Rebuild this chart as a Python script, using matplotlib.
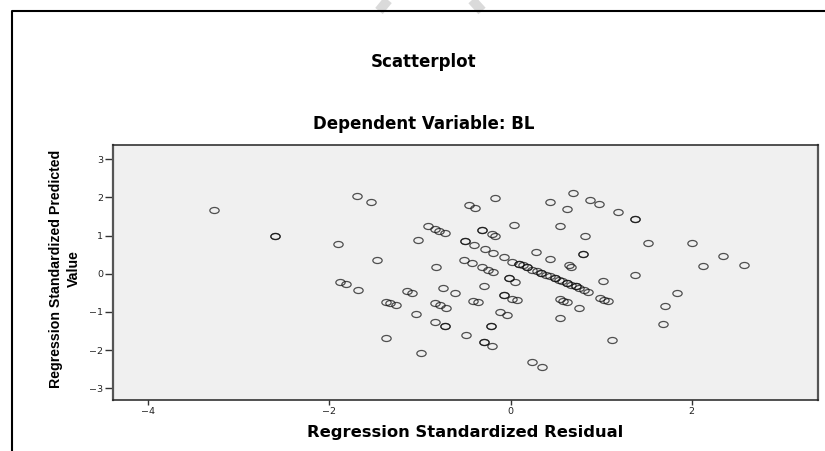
import numpy as np
import matplotlib.pyplot as plt
from matplotlib.path import Path
from matplotlib.transforms import Affine2D
from matplotlib.lines import Line2D

# standardized residual (x) and standardized predicted value (y), one entry per case
residual = [
    -3.28, -2.60, -2.60, -1.70, -1.54, -1.91, -1.48, -1.88, -1.82, -1.68,
    -1.38, -1.33, -1.27, -1.38,
    -0.17, -0.46, -0.39, 0.04, -0.91, -0.83, -0.79, -0.72, -1.02,
    -0.32, -0.32, -0.21, -0.17, -0.50, -0.50, -0.40, -0.28, -0.19, -0.07, 0.02,
    -0.82, -0.51, -0.43, -0.32, -0.25, -0.19, -0.02, -0.02, 0.05,
    -0.75, -0.61, -0.29, -1.14, -1.09, -1.04, -0.84, -0.78, -0.71,
    -0.42, -0.36, -0.07, -0.07, 0.02, 0.07, -0.12, -0.04,
    -0.84, -0.72, -0.72, -0.22, -0.22, -0.49, -0.29, -0.29, -0.21, -0.99,
    0.69, 0.44, 0.62, 0.88, 0.98, 1.19, 1.37, 1.37, 0.55, 0.82,
    0.28, 0.44, 0.80, 0.80, 0.64, 0.67, 1.02, 1.37,
    0.09, 0.09, 0.14, 0.18, 0.18, 0.24, 0.29, 0.34, 0.34, 0.39, 0.43,
    0.49, 0.49, 0.53, 0.57, 0.62, 0.62, 0.67, 0.72, 0.72, 0.76, 0.81, 0.86,
    0.54, 0.58, 0.62, 0.76, 0.54, 0.99, 1.03, 1.08, 1.12, 0.24, 0.35,
    1.52, 2.00, 2.34, 2.12, 2.58, 1.84, 1.70, 1.68,
]
predicted = [
    1.66, 0.98, 0.98, 2.04, 1.88, 0.79, 0.36, -0.22, -0.28, -0.42,
    -0.74, -0.77, -0.81, -1.69,
    1.99, 1.79, 1.72, 1.28, 1.25, 1.18, 1.13, 1.07, 0.89,
    1.16, 1.16, 1.05, 1.00, 0.85, 0.85, 0.75, 0.64, 0.55, 0.43, 0.32,
    0.19, 0.37, 0.29, 0.19, 0.11, 0.04, -0.11, -0.11, -0.21,
    -0.36, -0.50, -0.33, -0.46, -0.51, -1.05, -0.76, -0.82, -0.89,
    -0.70, -0.74, -0.55, -0.55, -0.65, -0.69, -1.00, -1.07,
    -1.25, -1.37, -1.37, -1.37, -1.37, -1.61, -1.79, -1.79, -1.88, -2.08,
    2.11, 1.87, 1.69, 1.93, 1.82, 1.61, 1.44, 1.44, 1.26, 1.00,
    0.57, 0.40, 0.52, 0.52, 0.22, 0.18, -0.18, -0.03,
    0.26, 0.26, 0.22, 0.17, 0.17, 0.11, 0.07, 0.02, 0.02, -0.02, -0.06,
    -0.11, -0.11, -0.16, -0.20, -0.24, -0.24, -0.29, -0.33, -0.33, -0.38, -0.43, -0.48,
    -0.67, -0.71, -0.74, -0.89, -1.16, -0.64, -0.68, -0.72, -1.74, -2.32, -2.44,
    0.80, 0.81, 0.47, 0.20, 0.24, -0.49, -0.85, -1.32,
]

xticks = [-4, -2, 0, 2]
yticks = [-3, -2, -1, 0, 1, 2, 3]

title = 'Scatterplot'
subtitle = 'Dependent Variable: BL'
xlabel = 'Regression Standardized Residual'
ylabel = 'Regression Standardized Predicted\nValue'

fig = plt.figure(figsize=(8.25, 4.51), dpi=100)
fig.patch.set_facecolor('white')

# faint watermark strokes above the frame
for xs in ([388, 379], [472, 482]):
    fig.add_artist(Line2D([xs[0] / 825, xs[1] / 825], [1.0, 1 - 11 / 451],
                          color='#dadada', lw=7, solid_capstyle='butt', zorder=0))

# outer output frame (top and left edges)
fig.add_artist(Line2D([11.5 / 825, 11.5 / 825, 1.0], [0.0, 1 - 10.7 / 451, 1 - 10.7 / 451],
                      color='black', lw=1.5, zorder=1))

ax = fig.add_axes([113 / 825, 51 / 451, 705 / 825, 255 / 451])
ax.set_facecolor('#f0f0f0')

# slightly flattened open rings
ring = Path.unit_circle().transformed(Affine2D().scale(1.0, 0.65))
ax.plot(residual, predicted, linestyle='none', marker=ring, markersize=6.7,
        markerfacecolor='none', markeredgecolor='#111111', markeredgewidth=0.9,
        alpha=0.72)

ax.set_xlim(-4.39, 3.394)
ax.set_ylim(-3.306, 3.374)
ax.set_xticks(xticks)
ax.set_yticks(yticks)
ax.tick_params(axis='x', length=3.6, width=1.0, pad=1.5, labelsize=6.8,
               color='#333333', labelcolor='#222222')
ax.tick_params(axis='y', length=6, width=1.0, pad=1.0, labelsize=6.8,
               color='#333333', labelcolor='#222222')

for side in ['top', 'bottom']:
    ax.spines[side].set_linewidth(1.1)
    ax.spines[side].set_color('#222222')
for side in ['left', 'right']:
    ax.spines[side].set_linewidth(1.6)
    ax.spines[side].set_color('#555555')

ax.set_xlabel(xlabel, fontsize=11.8, fontweight='bold', family='DejaVu Sans', va='center')
ax.xaxis.set_label_coords(0.5, -0.129)
ax.set_ylabel(ylabel, fontsize=10.2, fontweight='bold',
              family=['Liberation Sans', 'DejaVu Sans'],
              va='center', ha='center', linespacing=1.35)
ax.yaxis.set_label_coords(-0.068, 0.514)

fig.text(424 / 825, 1 - 62 / 451, title, ha='center', va='center',
         fontsize=12, fontweight='bold', family='DejaVu Sans')
fig.text(424 / 825, 1 - 124 / 451, subtitle, ha='center', va='center',
         fontsize=12, fontweight='bold', family='DejaVu Sans')

fig.savefig('out.png', dpi=100, facecolor='white')
